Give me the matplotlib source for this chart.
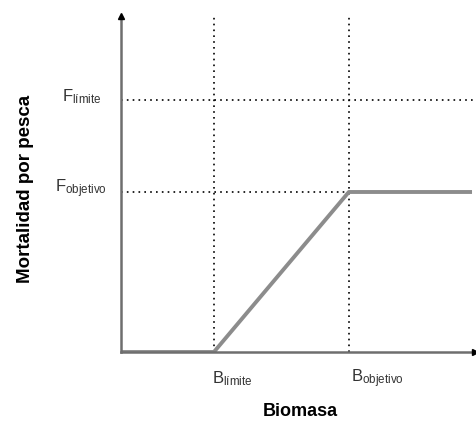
import matplotlib.pyplot as plt

plt.rcParams['font.family'] = ['Liberation Sans', 'DejaVu Sans']
plt.rcParams['mathtext.fontset'] = 'custom'
plt.rcParams['mathtext.rm'] = 'Liberation Sans'
plt.rcParams['mathtext.default'] = 'regular'

# reference points (axis units 0-100)
b_limite = 26.1
b_objetivo = 64.0
f_limite = 74.3
f_objetivo = 47.2
x_end = 98.6

curve_x = [0, b_limite, b_objetivo, x_end]
curve_y = [0, 0, f_objetivo, f_objetivo]

W, H = 477, 433
fig = plt.figure(figsize=(W / 100, H / 100), dpi=100)
ax = fig.add_axes([121 / W, 1 - 352 / H, 356 / W, 339 / H])
ax.set_xlim(0, 100)
ax.set_ylim(0, 100)
ax.axis("off")

# dotted reference lines
dot = dict(color="black", lw=1.2, linestyle=(0, (1, 2.5)))
ax.plot([0, 100], [f_limite, f_limite], **dot)
ax.plot([0, b_objetivo], [f_objetivo, f_objetivo], **dot)
ax.plot([b_limite, b_limite], [0, 99], **dot)
ax.plot([b_objetivo, b_objetivo], [0, 99], **dot)

# harvest control rule
ax.plot(curve_x, curve_y, color="#8c8c8c", lw=2.8, solid_capstyle="butt", zorder=3)

# axes with arrows
ax.plot([0, 0], [0, 99], color="#6e6e6e", lw=1.8, zorder=4, clip_on=False)
ax.plot([0, 99.5], [0, 0], color="#6e6e6e", lw=1.8, zorder=4, clip_on=False)
ax.plot([0], [99], marker="^", color="black", ms=5, clip_on=False, zorder=5)
ax.plot([99.5], [0], marker=">", color="black", ms=5, clip_on=False, zorder=5)

# labels (pixel positions from the reference)
lab = dict(fontsize=12, color="#333333", va="center", ha="left")
fig.text(62 / W, 1 - 97 / H, r"F$_{límite}$", **lab)
fig.text(55 / W, 1 - 189 / H, r"F$_{objetivo}$", **lab)
fig.text(212 / W, 1 - 379 / H, r"B$_{límite}$", **lab)
fig.text(351 / W, 1 - 379 / H, r"B$_{objetivo}$", **lab)

fig.text(263 / W, 1 - 412 / H, "Biomasa", fontsize=13, fontweight="bold",
         ha="left", va="center")
fig.text(26 / W, 1 - 189 / H, "Mortalidad por pesca", fontsize=13.5,
         fontweight="bold", rotation=90, ha="center", va="center")

fig.savefig("out.png", dpi=100)
